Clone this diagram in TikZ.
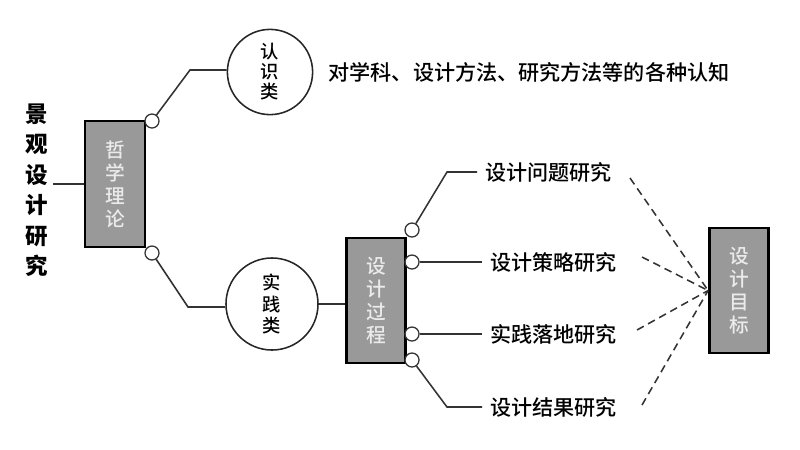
\documentclass[tikz,border=0pt]{standalone}
\usepackage{fontspec}
\setmainfont{Noto Sans CJK SC}
\newfontfamily\cjkmed{Noto Sans CJK SC}[UprightFont={* Medium}]
\usetikzlibrary{positioning,calc}

\tikzset{
  graybox/.style={draw=black, line width=1.8pt, fill=black!40, text=black!8, align=center,
    minimum width=1.48cm, minimum height=3.15cm, inner sep=0pt, font=\cjkmed\fontsize{14}{16.3}\selectfont},
  ringnode/.style={circle, draw=black!85, line width=1.1pt, align=center, inner sep=0pt},
  port/.style={circle, draw=black!80, fill=white, line width=0.9pt, minimum size=0.35cm, inner sep=0pt},
  link/.style={draw=black!80, line width=1.1pt},
  itemtext/.style={font=\cjkmed\fontsize{15}{15}\selectfont, inner sep=0.2cm, anchor=west},
  goalline/.style={draw=black!80, line width=1.1pt, dash pattern=on 5.5pt off 3.5pt}
}

\begin{document}
\begin{tikzpicture}[x=0.025cm, y=-0.025cm]

\useasboundingbox (0,0) rectangle (800,449);

% left title and philosophy box
\node[align=center, inner sep=3pt, font=\bfseries\fontsize{16}{21.7}\selectfont] (jg) at (37,190) {景\\观\\设\\计\\研\\究};
\node[graybox, minimum width=1.5cm] (zx) at (115,184) {哲\\学\\理\\论};
\draw[link] (zx.west) -- (zx.west -| jg.east);

% two kinds
\node[ringnode, minimum size=2.13cm, font=\cjkmed\fontsize{13}{14.2}\selectfont] (rz) at (270,72) {认\\识\\类};
\node[ringnode, minimum size=2.3cm, font=\cjkmed\fontsize{13}{15}\selectfont] (rs) at (272,304) {实\\践\\类};
\node[anchor=west, inner sep=0pt, right=0.375cm of rz, font=\cjkmed\fontsize{15}{15}\selectfont] (rzt) {对学科、设计方法、研究方法等的各种认知};

\node[port] (p1) at (152,121) {};
\node[port] (p2) at (152,253) {};
\coordinate (k1) at (190,70);
\coordinate (k2) at (188,307);
\draw[link] (p1) -- (k1) -- (k1 -| rz.west);
\draw[link] (p2) -- (k2) -- (k2 -| rs.west);

% design process
\node[graybox, minimum height=3.125cm] (gc) at (376,300.5) {设\\计\\过\\程};
\draw[link] (rs.east) -- (rs.east -| gc.west);

\node[port] (p3) at (412,230) {};
\node[port] (p4) at (412,262) {};
\node[port] (p5) at (412,334) {};
\node[port] (p6) at (412,360) {};

\node[itemtext] (t1) at (477,172) {设计问题研究};
\node[itemtext] (t2) at (482,262) {设计策略研究};
\node[itemtext] (t3) at (482,334) {实践落地研究};
\node[itemtext] (t4) at (482,407) {设计结果研究};

\coordinate (k3) at (447,172);
\coordinate (k4) at (447,407);
\draw[link] (p3) -- (k3) -- (t1.west);
\draw[link] (p4) -- (t2.west);
\draw[link] (p5) -- (t3.west);
\draw[link] (p6) -- (k4) -- (t4.west);

% design goal
\node[graybox, minimum height=3.125cm] (mb) at (739,290.5) {设\\计\\目\\标};

\coordinate (d1) at (630,178);
\coordinate (d2) at (642,257);
\coordinate (d3) at (637,330);
\coordinate (d4) at (642,405);
\foreach \d in {d1,d2,d3,d4}
  \draw[goalline] (\d) -- (mb.west);

\end{tikzpicture}
\end{document}
